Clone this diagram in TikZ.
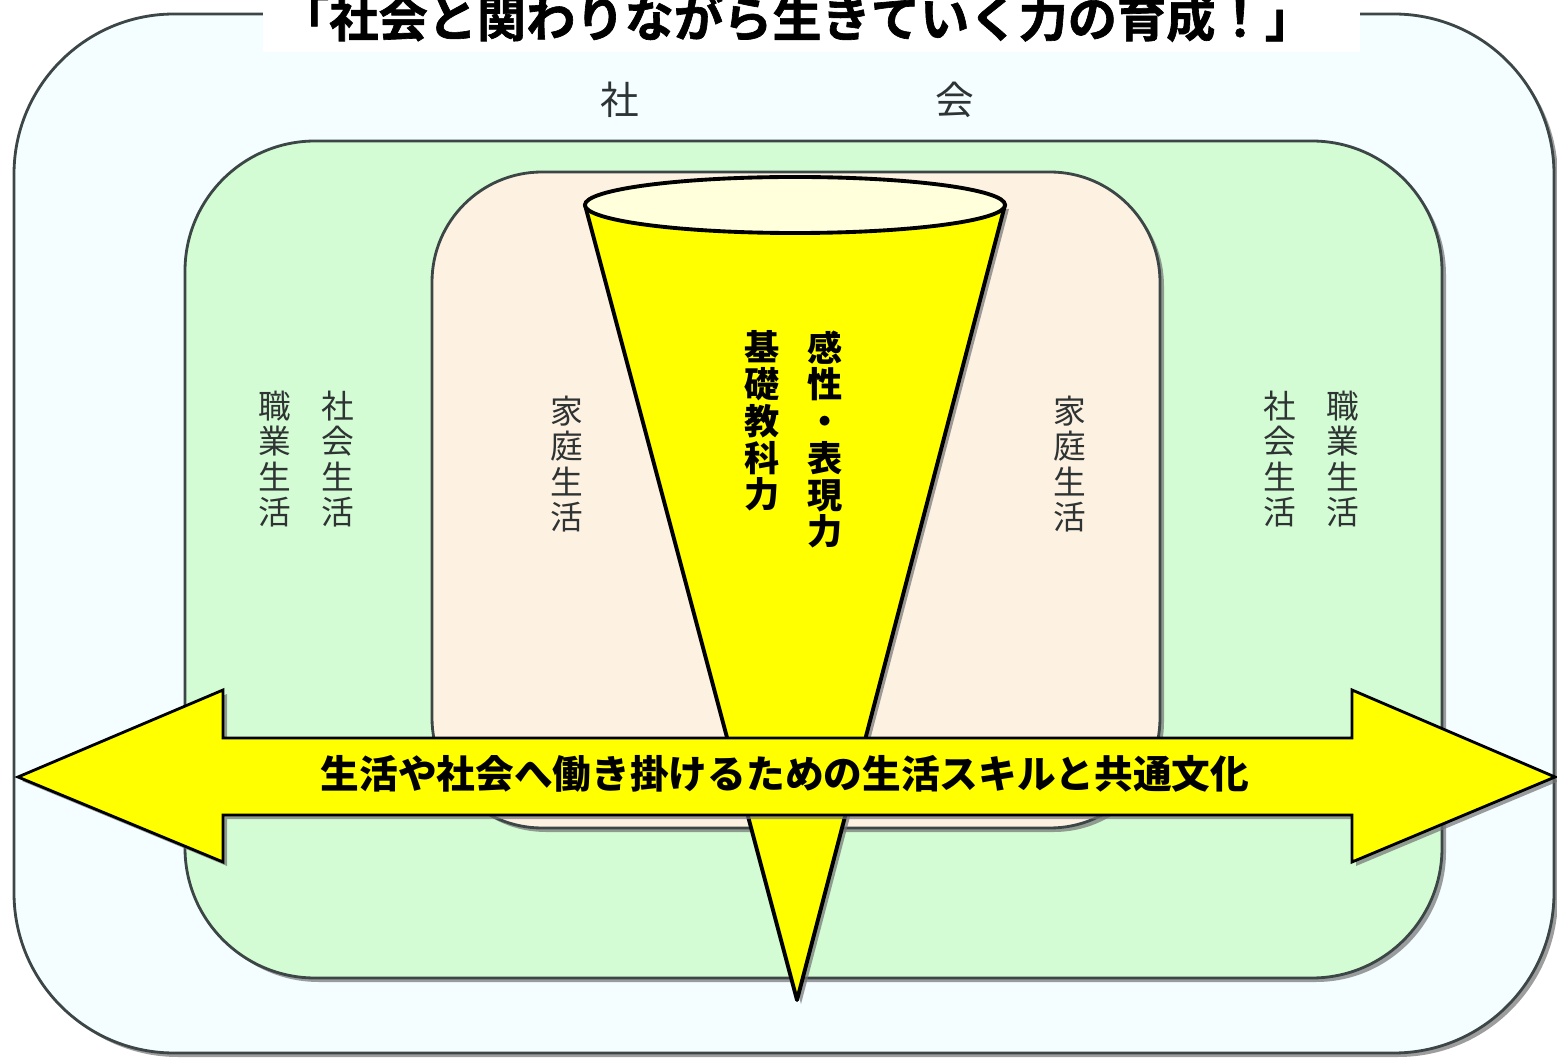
\documentclass[tikz,border=0pt]{standalone}
\usepackage{fontspec}
\newfontfamily\cjk{Noto Sans CJK JP}
\newfontfamily\cjkheavy[UprightFont=* Bold, FakeBold=1.3]{Noto Sans CJK JP}
\usetikzlibrary{shadows}
\definecolor{outerfill}{HTML}{F4FDFF}
\definecolor{greenfill}{HTML}{D4FCD4}
\definecolor{peachfill}{HTML}{FDF1E2}
\definecolor{conetop}{HTML}{FFFFDC}
\definecolor{edgegray}{HTML}{3C4646}
\definecolor{txtgray}{HTML}{2E3333}
\definecolor{pureyellow}{HTML}{FFFF00}
\tikzset{
  softshadow/.style={drop shadow={shadow xshift=0.04cm, shadow yshift=-0.04cm, fill=black!55, opacity=0.7}},
  boxline/.style={draw=edgegray, line width=0.8pt},
  sidetxt/.style={anchor=north, inner sep=0pt, align=center, text=txtgray,
    font=\cjk\fontsize{9.3}{10.1}\selectfont},
  conetxt/.style={anchor=north, inner sep=0pt, align=center, text=black,
    font=\cjk\bfseries\fontsize{10}{10.45}\selectfont},
}
\begin{document}
\begin{tikzpicture}[x=0.01cm, y=-0.01cm]
\useasboundingbox (0,0) rectangle (1557,1058);
% outer box
\draw[boxline, fill=outerfill, rounded corners=1.6cm, softshadow] (14,14) rectangle (1554,1053);
% title band
\fill[white] (263,0) rectangle (1360,52);
\node[inner sep=0pt, font=\cjkheavy\fontsize{14}{16}\selectfont] (title) at (797,18) {「社会と関わりながら生きていく力の育成！」};
% labels society
\node[inner sep=0pt, text=txtgray, font=\cjk\fontsize{11}{12}\selectfont] (sha) at (620,100) {社};
\node[inner sep=0pt, text=txtgray, font=\cjk\fontsize{11}{12}\selectfont] (kai) at (955,100) {会};
% green box
\draw[boxline, fill=greenfill, rounded corners=1.3cm, softshadow] (185,141) rectangle (1442,978);
% peach box
\draw[boxline, fill=peachfill, rounded corners=1.1cm, softshadow] (432,172) rectangle (1160,828);
% cone
\draw[black, line width=1.1pt, fill=pureyellow, line join=round, softshadow] (585,205) -- (797,1000) -- (1005,205) -- cycle;
\draw[black, line width=1.1pt, fill=conetop] (795,205) ellipse [x radius=2.1cm, y radius=0.28cm];
% double arrow
\draw[black, line width=0.8pt, fill=pureyellow, softshadow]
  (18,777) -- (223,690) -- (223,738) -- (1352,738) -- (1352,690) -- (1555,777)
  -- (1352,862) -- (1352,815) -- (223,815) -- (223,862) -- cycle;
\node[inner sep=0pt, font=\cjk\bfseries\fontsize{11}{12}\selectfont] (skill) at (785,774) {生活や社会へ働き掛けるための生活スキルと共通文化};
% cone texts
\node[conetxt] (kansei) at (825,330) {感\\性\\・\\表\\現\\力};
\node[conetxt] (kiso) at (762,330) {基\\礎\\教\\科\\力};
% side texts
\node[sidetxt] (homeL) at (567,395) {家\\庭\\生\\活};
\node[sidetxt] (homeR) at (1070,395) {家\\庭\\生\\活};
\node[sidetxt] (jobL) at (275,390) {職\\業\\生\\活};
\node[sidetxt] (socL) at (338,390) {社\\会\\生\\活};
\node[sidetxt] (socR) at (1280,390) {社\\会\\生\\活};
\node[sidetxt] (jobR) at (1343,390) {職\\業\\生\\活};
\end{tikzpicture}
\end{document}
